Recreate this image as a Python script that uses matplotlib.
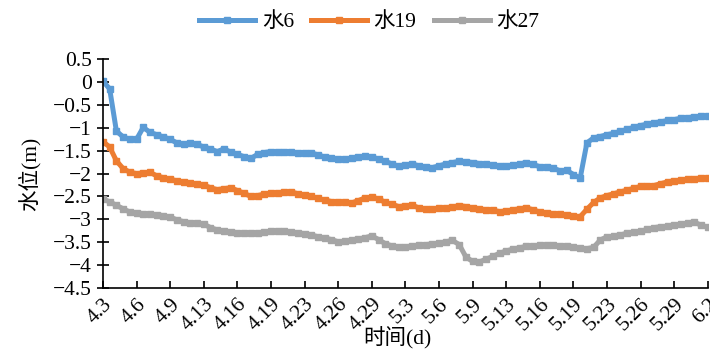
import numpy as np
import matplotlib
matplotlib.use("Agg")
import matplotlib.pyplot as plt

plt.rcParams['font.family'] = ['Liberation Serif', 'Noto Sans CJK SC']
plt.rcParams['axes.unicode_minus'] = True

# tick labels (dates), one every 5 samples
date_labels = ['4.3', '4.6', '4.9', '4.13', '4.16', '4.19', '4.23', '4.26', '4.29',
               '5.3', '5.6', '5.9', '5.13', '5.16', '5.19', '5.23', '5.26', '5.29', '6.2']

# water level (m)
shui6 = [0.02, -0.15, -1.07, -1.20, -1.25, -1.25, -0.99, -1.10, -1.15, -1.20,
         -1.25, -1.33, -1.35, -1.34, -1.36, -1.42, -1.46, -1.52, -1.46, -1.53,
         -1.58, -1.63, -1.67, -1.58, -1.54, -1.52, -1.53, -1.52, -1.53, -1.55,
         -1.54, -1.55, -1.59, -1.64, -1.67, -1.69, -1.68, -1.67, -1.64, -1.62,
         -1.64, -1.68, -1.73, -1.79, -1.84, -1.81, -1.79, -1.83, -1.86, -1.87,
         -1.83, -1.79, -1.76, -1.73, -1.74, -1.76, -1.78, -1.80, -1.82, -1.84,
         -1.84, -1.82, -1.79, -1.76, -1.80, -1.85, -1.85, -1.88, -1.94, -1.93,
         -2.02, -2.10, -1.33, -1.22, -1.19, -1.15, -1.12, -1.08, -1.03, -0.99,
         -0.95, -0.92, -0.89, -0.87, -0.84, -0.82, -0.79, -0.78, -0.76, -0.75,
         -0.74]

shui19 = [-1.30, -1.42, -1.72, -1.89, -1.97, -2.00, -1.99, -1.97, -2.05, -2.09,
          -2.12, -2.16, -2.19, -2.21, -2.23, -2.25, -2.31, -2.35, -2.33, -2.31,
          -2.37, -2.43, -2.50, -2.48, -2.45, -2.43, -2.42, -2.41, -2.40, -2.44,
          -2.47, -2.50, -2.54, -2.58, -2.61, -2.62, -2.63, -2.64, -2.59, -2.53,
          -2.52, -2.55, -2.63, -2.67, -2.72, -2.71, -2.69, -2.75, -2.77, -2.77,
          -2.76, -2.75, -2.73, -2.70, -2.72, -2.75, -2.77, -2.79, -2.80, -2.83,
          -2.82, -2.79, -2.77, -2.75, -2.79, -2.84, -2.86, -2.88, -2.89, -2.91,
          -2.93, -2.94, -2.78, -2.63, -2.53, -2.48, -2.44, -2.40, -2.36, -2.32,
          -2.28, -2.27, -2.26, -2.22, -2.18, -2.16, -2.14, -2.12, -2.11, -2.10,
          -2.09]

shui27 = [-2.55, -2.62, -2.69, -2.77, -2.84, -2.87, -2.88, -2.89, -2.90, -2.92,
          -2.95, -3.01, -3.05, -3.08, -3.08, -3.10, -3.18, -3.23, -3.26, -3.28,
          -3.29, -3.30, -3.30, -3.30, -3.28, -3.26, -3.25, -3.25, -3.28, -3.30,
          -3.31, -3.34, -3.38, -3.41, -3.44, -3.49, -3.48, -3.46, -3.43, -3.40,
          -3.36, -3.44, -3.53, -3.58, -3.60, -3.60, -3.58, -3.56, -3.55, -3.54,
          -3.52, -3.49, -3.46, -3.55, -3.82, -3.92, -3.93, -3.87, -3.81, -3.74,
          -3.69, -3.65, -3.62, -3.59, -3.58, -3.57, -3.57, -3.57, -3.58, -3.59,
          -3.61, -3.63, -3.64, -3.61, -3.45, -3.38, -3.37, -3.34, -3.30, -3.28,
          -3.26, -3.22, -3.18, -3.16, -3.15, -3.13, -3.11, -3.08, -3.06, -3.13,
          -3.17]

x = np.arange(len(shui6))

fig = plt.figure(figsize=(7.1, 3.5), dpi=100)
ax = fig.add_axes([0.145, 0.177, 0.852, 0.654])

ax.plot(x, shui6, color='#5B9BD5', lw=3.6, marker='s', ms=4.2, label='水6')
ax.plot(x, shui19, color='#ED7D31', lw=3.6, marker='s', ms=4.2, label='水19')
ax.plot(x, shui27, color='#A5A5A5', lw=3.6, marker='s', ms=4.2, label='水27')

ax.set_xlim(0, 90)
ax.set_ylim(-4.5, 0.5)
ax.set_yticks(np.arange(-4.5, 0.51, 0.5))
ax.set_yticklabels([('%g' % v).replace('-', '\u2212') for v in np.arange(-4.5, 0.51, 0.5)])
ax.set_xticks(np.arange(0, 91, 5))
ax.set_xticklabels(date_labels, rotation=45, ha='right', va='top', rotation_mode='anchor')

for s in ['top', 'right']:
    ax.spines[s].set_visible(False)
for s in ['left', 'bottom']:
    ax.spines[s].set_linewidth(1.2)
ax.tick_params(axis='y', direction='inout', length=8, width=1.2, labelsize=15.5, pad=4)
ax.tick_params(axis='x', direction='in', length=5, width=1.2, labelsize=15.5, pad=5)

ax.set_ylabel('水位(m)', fontsize=15.5, labelpad=9)
fig.text(0.56, 0.035, '时间(d)', fontsize=15.5, ha='center', va='center')

fig.legend(loc='center', bbox_to_anchor=(0.52, 0.937), ncol=3, frameon=False,
           fontsize=15.5, handlelength=2.6, columnspacing=0.8, handletextpad=0.3)

fig.savefig('out.png', dpi=100)
